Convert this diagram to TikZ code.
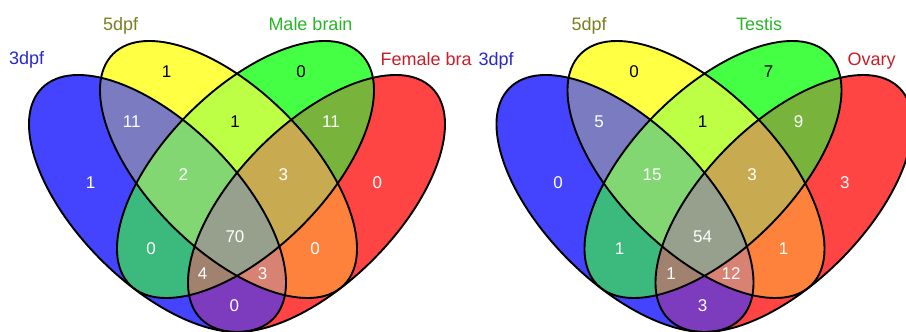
\documentclass[tikz,border=0pt]{standalone}
\usepackage{fontspec}
\setmainfont{Liberation Sans}
\definecolor{cB}{RGB}{68,68,255}
\definecolor{cY}{RGB}{255,255,68}
\definecolor{cG}{RGB}{68,255,68}
\definecolor{cR}{RGB}{255,68,68}
\definecolor{cBY}{RGB}{123,123,193}
\definecolor{cYG}{RGB}{188,255,68}
\definecolor{cGR}{RGB}{120,180,60}
\definecolor{cBG}{RGB}{60,185,125}
\definecolor{cYR}{RGB}{255,130,60}
\definecolor{cBR}{RGB}{125,60,190}
\definecolor{cBYG}{RGB}{130,215,115}
\definecolor{cYGR}{RGB}{200,170,80}
\definecolor{cBGR}{RGB}{160,130,110}
\definecolor{cBYR}{RGB}{215,130,115}
\definecolor{cBYGR}{RGB}{150,160,140}
\definecolor{tB}{RGB}{40,40,205}
\definecolor{tY}{RGB}{125,125,35}
\definecolor{tG}{RGB}{40,180,40}
\definecolor{tR}{RGB}{200,30,40}
\newcommand\pB{\pgfpathellipse{\pgfpoint{157.5pt}{128.5pt}}{\pgfpoint{115.47pt}{-115.47pt}}{\pgfpoint{56.36pt}{56.36pt}}}
\newcommand\pY{\pgfpathellipse{\pgfpoint{228.5pt}{162.5pt}}{\pgfpoint{115.47pt}{-115.47pt}}{\pgfpoint{56.36pt}{56.36pt}}}
\newcommand\pG{\pgfpathellipse{\pgfpoint{245.5pt}{162.5pt}}{\pgfpoint{115.47pt}{115.47pt}}{\pgfpoint{-56.36pt}{56.36pt}}}
\newcommand\pR{\pgfpathellipse{\pgfpoint{316.5pt}{128.5pt}}{\pgfpoint{115.47pt}{115.47pt}}{\pgfpoint{-56.36pt}{56.36pt}}}
\newcommand\cl[1]{#1\pgfusepath{clip}}
\newcommand\rg[2]{\begin{scope}#2\fill[#1] (-20,-20) rectangle (480,360);\end{scope}}
\newcommand\outl[1]{\begin{scope}\pgfsetlinewidth{1.9pt}\pgfsetstrokecolor{black}#1\pgfusepath{stroke}\end{scope}}
\newcommand\vennbody{%
  \rg{cB}{\cl\pB}\rg{cY}{\cl\pY}\rg{cG}{\cl\pG}\rg{cR}{\cl\pR}%
  \rg{cBY}{\cl\pB\cl\pY}\rg{cBG}{\cl\pB\cl\pG}\rg{cBR}{\cl\pB\cl\pR}%
  \rg{cYG}{\cl\pY\cl\pG}\rg{cYR}{\cl\pY\cl\pR}\rg{cGR}{\cl\pG\cl\pR}%
  \rg{cBYG}{\cl\pB\cl\pY\cl\pG}\rg{cBYR}{\cl\pB\cl\pY\cl\pR}%
  \rg{cBGR}{\cl\pB\cl\pG\cl\pR}\rg{cYGR}{\cl\pY\cl\pG\cl\pR}%
  \rg{cBYGR}{\cl\pB\cl\pY\cl\pG\cl\pR}%
  \outl\pB\outl\pY\outl\pG\outl\pR}
\tikzset{
  lbl/.style={font=\fontsize{18}{20}\selectfont, anchor=base west, inner sep=0pt},
  num/.style={font=\fontsize{17}{19}\selectfont, text=white, inner sep=0pt},
  numk/.style={num, text=black}
}
\begin{document}
\begin{tikzpicture}[x=1pt,y=1pt]
\useasboundingbox (0,0) rectangle (906,332);
\fill[white] (0,0) rectangle (906,332);
% left diagram
\begin{scope}
  \vennbody
  \node[lbl, text=tB] (l3) at (9,267) {3dpf};
  \node[lbl, text=tY] (l5) at (103,301.3) {5dpf};
  \node[lbl, text=tG] (lm) at (268.3,301.3) {Male brain};
  \node[lbl, text=tR] (lf) at (380.5,266) {Female bra};
  \node[num]  (aB)    at (90.7,149.3) {1};
  \node[numk] (aY)    at (166.7,260.3) {1};
  \node[numk] (aG)    at (301,260.3) {0};
  \node[num]  (aR)    at (377.3,149.3) {0};
  \node[num]  (aBY)   at (131.7,210.3) {11};
  \node[numk] (aYG)   at (235,210.3) {1};
  \node[num]  (aGR)   at (331,210.3) {11};
  \node[num]  (aBYG)  at (183.3,157) {2};
  \node[num]  (aYGR)  at (283.3,157) {3};
  \node[num]  (aBG)   at (151,83.7) {0};
  \node[num]  (aBYGR) at (235,95.3) {70};
  \node[num]  (aYR)   at (315,83.7) {0};
  \node[num]  (aBGR)  at (202.7,58) {4};
  \node[num]  (aBYR)  at (262.7,58) {3};
  \node[num]  (aBR)   at (234.3,26) {0};
\end{scope}
% right diagram
\begin{scope}[xshift=467.5pt]
  \vennbody
  \node[lbl, text=tB] (r3) at (10.8,266) {3dpf};
  \node[lbl, text=tY] (r5) at (103.8,301.3) {5dpf};
  \node[lbl, text=tG] (rt) at (268.3,301.3) {Testis};
  \node[lbl, text=tR] (ro) at (379.8,266) {Ovary};
  \node[num]  (bB)    at (90.7,149.3) {0};
  \node[numk] (bY)    at (166.7,260.3) {0};
  \node[numk] (bG)    at (301,260.3) {7};
  \node[num]  (bR)    at (377.3,149.3) {3};
  \node[num]  (bBY)   at (131.7,210.3) {5};
  \node[numk] (bYG)   at (235,210.3) {1};
  \node[num]  (bGR)   at (331,210.3) {9};
  \node[num]  (bBYG)  at (184.5,157) {15};
  \node[num]  (bYGR)  at (284.5,157) {3};
  \node[num]  (bBG)   at (152,83.7) {1};
  \node[num]  (bBYGR) at (235,95.3) {54};
  \node[num]  (bYR)   at (316,83.7) {1};
  \node[num]  (bBGR)  at (203.5,58) {1};
  \node[num]  (bBYR)  at (263.5,58) {12};
  \node[num]  (bBR)   at (235,26) {3};
\end{scope}
\end{tikzpicture}
\end{document}
